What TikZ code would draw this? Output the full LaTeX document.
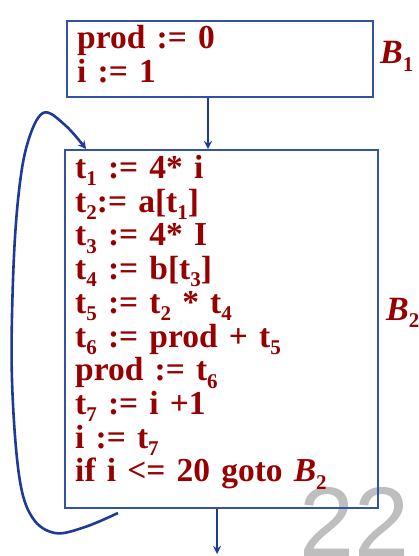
\documentclass[tikz,border=0pt]{standalone}
\usepackage{fontspec}
\setmainfont{Liberation Serif}
\newfontfamily\numfont{Liberation Sans}
\definecolor{codered}{RGB}{150,0,0}
\definecolor{boxblue}{RGB}{50,82,165}
\definecolor{arrowblue}{RGB}{30,58,150}
\definecolor{numgray}{RGB}{190,190,190}
\newcommand{\sbs}[1]{\raisebox{-0.22em}{\fontsize{21}{21}\selectfont #1}}
\tikzset{>=stealth,
  block/.style={draw=boxblue, line width=1.8pt, inner sep=0pt},
  code/.style={text=codered, font=\fontsize{33.5}{33.7}\selectfont\bfseries,
    inner sep=0pt, align=left, text width=290pt, anchor=base west},
  lbl/.style={text=codered, font=\fontsize{34}{34}\selectfont\bfseries,
    inner sep=0pt, anchor=base west},
  flow/.style={draw=arrowblue, line width=2.6pt, ->}}

\begin{document}
\begin{tikzpicture}[x=1pt, y=-1pt]
    \useasboundingbox (0,0) rectangle (419,556);
    \node[text=numgray, font=\fontsize{99}{99}\selectfont\numfont,
      inner sep=0pt, anchor=base west] (num) at (299,556) {22};
    % basic blocks
    \node[block, minimum width=306pt, minimum height=76pt] (b1) at (220,59) {};
    \node[block, minimum width=313pt, minimum height=358pt] (b2) at (221.5,329) {};
    \node[code] (c1) at (77,49) {prod := 0\\ i := 1};
    \node[code] (c2) at (75,178.5) {t\sbs{1} := 4* i\\ t\sbs{2}:= a[t\sbs{1}]\\
      t\sbs{3} := 4* I\\ t\sbs{4} := b[t\sbs{3}]\\ t\sbs{5} := t\sbs{2} * t\sbs{4}\\
      t\sbs{6} := prod + t\sbs{5}\\ prod := t\sbs{6}\\ t\sbs{7} := i +1\\
      i := t\sbs{7}\\ if i <= 20 goto \textit{B}\sbs{2}};
    \node[lbl] (l1) at (380,64) {\textit{B}\sbs{1}};
    \node[lbl] (l2) at (386,320) {\textit{B}\sbs{2}};
    % edges
    \coordinate (exit) at (217,554);
    \coordinate (loopstart) at (118,513);
    \coordinate (loopend) at ([xshift=22pt]b2.north west);
    \draw[flow] ([xshift=-12pt]b1.south) -- ([xshift=-12pt]b1.south |- b2.north);
    \draw[flow] (b2.south -| exit) -- (exit);
    \draw[flow] plot[smooth, tension=0.6] coordinates {(loopstart) (85,527) (55,533)
      (32,517) (19,475) (12,380) (13,280) (18,200) (27,145) (43,113) (65,125) (loopend)};
\end{tikzpicture}
\end{document}
